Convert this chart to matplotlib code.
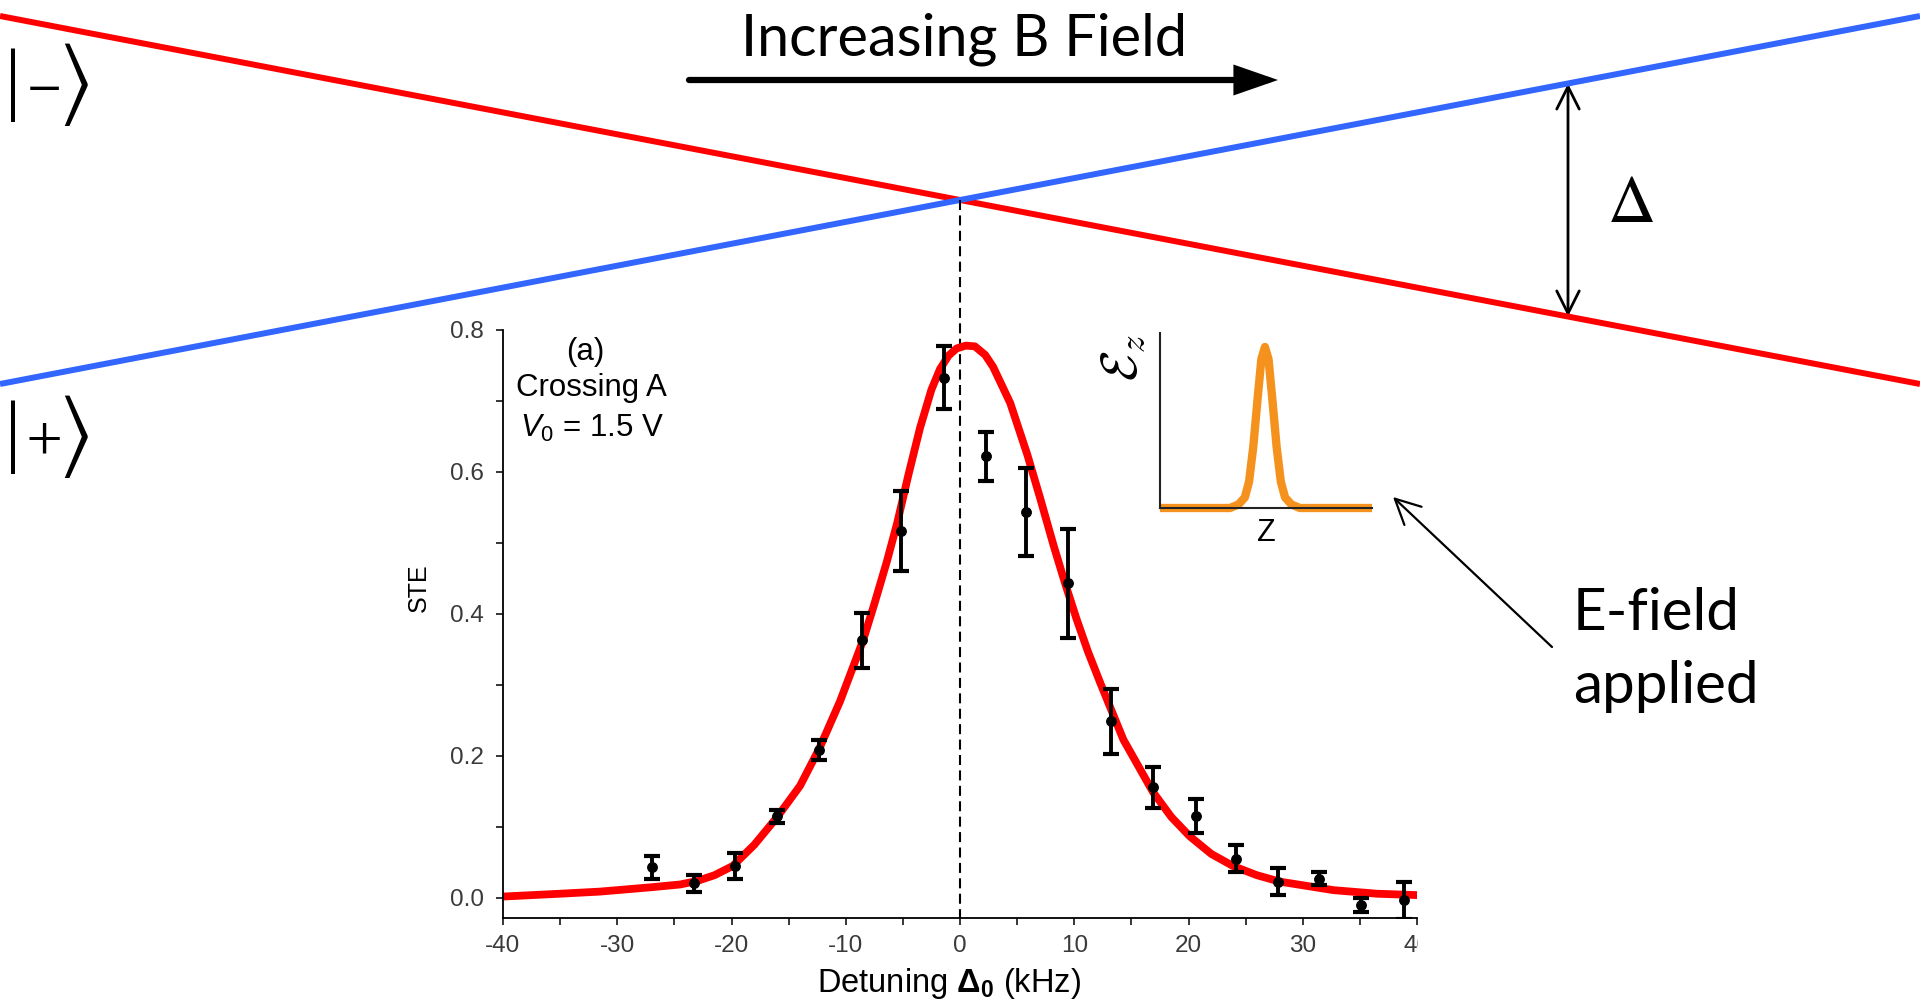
import numpy as np
import matplotlib
matplotlib.use("Agg")
import matplotlib.pyplot as plt
from matplotlib.patches import FancyArrowPatch
from matplotlib.ticker import MultipleLocator, FormatStrFormatter
from matplotlib.transforms import Bbox, TransformedBbox, blended_transform_factory

RED = "#ff0000"
BLUE = "#3366ff"
ORANGE = "#f5921e"
TICK_GREY = "#3a3a3a"

# level-crossing sketch, in figure pixels (y pointing down)
SKETCH_X = [0, 1920]
MINUS_LEVEL = [16, 384]
PLUS_LEVEL = [384, 16]
GAP_X = 1568

# measured STE vs detuning
DETUNING = [-27.0, -23.3, -19.7, -16.05, -12.35, -8.6, -5.17, -1.37, 2.28, 5.82,
            9.49, 13.2, 16.93, 20.64, 24.17, 27.87, 31.46, 35.08, 38.83]
STE = [0.043, 0.021, 0.045, 0.115, 0.208, 0.363, 0.517, 0.733, 0.622, 0.544,
       0.443, 0.249, 0.156, 0.116, 0.055, 0.023, 0.027, -0.010, -0.003]
STE_ERR = [0.016, 0.012, 0.018, 0.009, 0.014, 0.039, 0.056, 0.044, 0.035, 0.062,
           0.077, 0.046, 0.029, 0.024, 0.019, 0.019, 0.009, 0.010, 0.026]

# fitted curve
FIT_DETUNING = [-40, -35, -31.5, -27.1, -24.5, -23.0, -21.5, -19.9, -18.0, -16.0,
                -14.0, -12.3, -10.5, -8.5, -7.5, -6.4, -5.5, -4.5, -3.5, -2.5,
                -1.75, -1.0, -0.3, 0.5, 1.3, 2.2, 2.9, 4.4, 5.9, 7.0,
                8.2, 9.2, 10.2, 11.2, 12.3, 14.3, 16.9, 18.5, 20.1, 22.0,
                23.9, 26.0, 28.0, 32.7, 36.5, 40.1]
FIT_STE = [0.002, 0.006, 0.009, 0.015, 0.019, 0.024, 0.032, 0.045, 0.075, 0.114,
           0.158, 0.211, 0.277, 0.362, 0.414, 0.474, 0.528, 0.597, 0.662, 0.716,
           0.745, 0.764, 0.774, 0.778, 0.777, 0.765, 0.748, 0.697, 0.624, 0.564,
           0.496, 0.443, 0.393, 0.347, 0.302, 0.223, 0.149, 0.114, 0.087, 0.062,
           0.045, 0.032, 0.023, 0.011, 0.006, 0.004]

# E-field pulse sketch for the inset
PULSE_Z = [0.0, 0.33, 0.37, 0.40, 0.42, 0.44, 0.46, 0.478, 0.495, 0.512, 0.53,
           0.55, 0.57, 0.59, 0.62, 0.66, 1.0]
PULSE_E = [0.0, 0.0, 0.02, 0.06, 0.15, 0.35, 0.62, 0.85, 0.92, 0.85, 0.62,
           0.35, 0.15, 0.06, 0.02, 0.0, 0.0]

X_TICKS = [-40, -30, -20, -10, 0, 10, 20, 30, 40]
Y_TICKS = [0.0, 0.2, 0.4, 0.6, 0.8]

NARROW = ["Liberation Sans Narrow", "Liberation Sans"]
CALIBRI_LIKE = ["Lato", "DejaVu Sans"]

plt.rcParams.update({
    "font.family": ["Liberation Sans", "DejaVu Sans"],
    "axes.unicode_minus": False,
    "mathtext.fontset": "custom",
    "mathtext.rm": "Liberation Sans",
    "mathtext.it": "Liberation Sans:italic",
    "mathtext.bf": "Liberation Sans:bold",
})

W, H = 1920, 1008
fig = plt.figure(figsize=(W / 100, H / 100), dpi=100)
fig.patch.set_facecolor("white")

# full-figure layer for the sketch
ax0 = fig.add_axes([0, 0, 1, 1])
ax0.set_xlim(0, W)
ax0.set_ylim(H, 0)
ax0.axis("off")

ax0.plot(SKETCH_X, MINUS_LEVEL, color=RED, lw=4.3, solid_capstyle="butt")
ax0.plot(SKETCH_X, PLUS_LEVEL, color=BLUE, lw=4.3, solid_capstyle="butt")


def ket(y, sign):
    # bar, sign and bracket are set separately so the bar can be tall and thin
    ax0.text(13, y, "|", fontsize=58, family=["Liberation Serif", "DejaVu Serif"],
             ha="center", va="center")
    ax0.text(43, y, sign, fontsize=37, math_fontfamily="stix", ha="center", va="center")
    ax0.text(58, y, r"$\rangle$", fontsize=64, math_fontfamily="stix", ha="left",
             va="center")


ket(85, r"$-$")
ket(437, r"$+$")

# splitting arrow
top_y = np.interp(GAP_X, SKETCH_X, PLUS_LEVEL)
bot_y = np.interp(GAP_X, SKETCH_X, MINUS_LEVEL)
ax0.add_patch(FancyArrowPatch((GAP_X, top_y), (GAP_X, bot_y),
                              arrowstyle="<->,head_length=0.9,head_width=0.45",
                              mutation_scale=18, lw=2.0, color="black",
                              shrinkA=0, shrinkB=0))
ax0.text(1630, 205, r"$\Delta$", fontsize=48, math_fontfamily="stix",
         ha="center", va="center")

# increasing field arrow
ax0.text(964, 55, "Increasing B Field", fontsize=41.5, family=CALIBRI_LIKE,
         ha="center", va="baseline")
ax0.add_patch(FancyArrowPatch((689, 80), (1278, 80),
                              arrowstyle="-|>,head_length=1.15,head_width=0.4",
                              mutation_scale=20, lw=4.5, color="black",
                              shrinkA=0, shrinkB=0, joinstyle="miter"))

# E-field label
ax0.text(1573, 630, "E-field", fontsize=42, family=CALIBRI_LIKE,
         ha="left", va="baseline")
ax0.text(1573, 703, "applied", fontsize=42, family=CALIBRI_LIKE,
         ha="left", va="baseline")
ax0.add_patch(FancyArrowPatch((1552, 647), (1393, 497),
                              arrowstyle="->,head_length=1.0,head_width=0.5",
                              mutation_scale=18, lw=1.6, color="black",
                              shrinkA=0, shrinkB=0))

# STE panel
left, right, top, bottom = 503, 1417, 330, 918
ax = fig.add_axes([left / W, 1 - bottom / H, (right - left) / W, (bottom - top) / H])
ax.set_facecolor("none")
ax.set_xlim(-40, 40)
ax.set_ylim(-0.0282, 0.8)

ax.plot(FIT_DETUNING, FIT_STE, color=RED, lw=5.6, solid_joinstyle="round", zorder=2)
ax.errorbar(DETUNING, STE, yerr=STE_ERR, fmt="o", color="black", ms=6.8,
            elinewidth=2.8, capsize=5.5, capthick=3.0, zorder=3)

for side in ["top", "right"]:
    ax.spines[side].set_visible(False)
for side in ["left", "bottom"]:
    ax.spines[side].set_linewidth(1.3)

ax.set_xticks(X_TICKS)
ax.set_yticks(Y_TICKS)
ax.xaxis.set_minor_locator(MultipleLocator(5))
ax.yaxis.set_minor_locator(MultipleLocator(0.1))
ax.yaxis.set_major_formatter(FormatStrFormatter("%.1f"))
ax.xaxis.set_major_formatter(FormatStrFormatter("%d"))
ax.tick_params(which="both", direction="out", length=5, width=1.1, colors="black",
               labelcolor=TICK_GREY)
ax.tick_params(axis="x", pad=7)
ax.tick_params(axis="y", pad=9)
for lab in ax.get_xticklabels() + ax.get_yticklabels():
    lab.set_fontfamily(NARROW)
    lab.set_fontsize(17.5)

# the source picture is cut just right of x = 40
clip = TransformedBbox(Bbox.from_extents(0, 0, (right + 1) / W, 1), fig.transFigure)
for lab in ax.get_xticklabels():
    lab.set_clip_on(True)
    lab.set_clip_box(clip)

ax.set_ylabel("STE", fontsize=18, family=NARROW)
ax.yaxis.set_label_coords(-0.079, 0.561)
ax.set_xlabel(r"Detuning $\mathbf{\Delta_0}$ (kHz)", fontsize=23.5, family=NARROW)
ax.xaxis.set_label_coords(0.488, -0.082)

ax.text(0.090, 0.962, "(a)", transform=ax.transAxes, fontsize=22.5,
        ha="center", va="center")
ax.text(0.097, 0.901, "Crossing A", transform=ax.transAxes, fontsize=22.5,
        ha="center", va="center")
ax.text(0.098, 0.832, r"$V_0$ = 1.5 V", transform=ax.transAxes, fontsize=22.5,
        ha="center", va="center")

# dashed line from the crossing point down to the axis
cross_y = np.interp(W / 2, SKETCH_X, MINUS_LEVEL)
mixed = blended_transform_factory(ax.transData, ax0.transData)
ax.plot([0, 0], [cross_y, bottom], transform=mixed, color="black", lw=1.5,
        linestyle=(0, (4.8, 2.6)), clip_on=False, zorder=1)

# E-field inset
ix0, ix1, iy0, iy1 = 1160, 1372, 333, 508
axi = fig.add_axes([ix0 / W, 1 - iy1 / H, (ix1 - ix0) / W, (iy1 - iy0) / H])
axi.set_facecolor("none")
axi.plot(PULSE_Z, PULSE_E, color=ORANGE, lw=6, clip_on=False,
         solid_joinstyle="round", solid_capstyle="butt")
axi.set_xlim(0, 1)
axi.set_ylim(0, 1)
axi.set_xticks([])
axi.set_yticks([])
for side in ["top", "right"]:
    axi.spines[side].set_visible(False)
for side in ["left", "bottom"]:
    axi.spines[side].set_linewidth(1.5)
    axi.spines[side].set_color("#222222")
axi.set_xlabel("Z", fontsize=22, labelpad=7)
ax0.text(1123, 358, r"$\mathcal{E}_z$", fontsize=36, math_fontfamily="cm",
         rotation=90, ha="center", va="center")

fig.savefig("out.png", dpi=100, facecolor="white")
